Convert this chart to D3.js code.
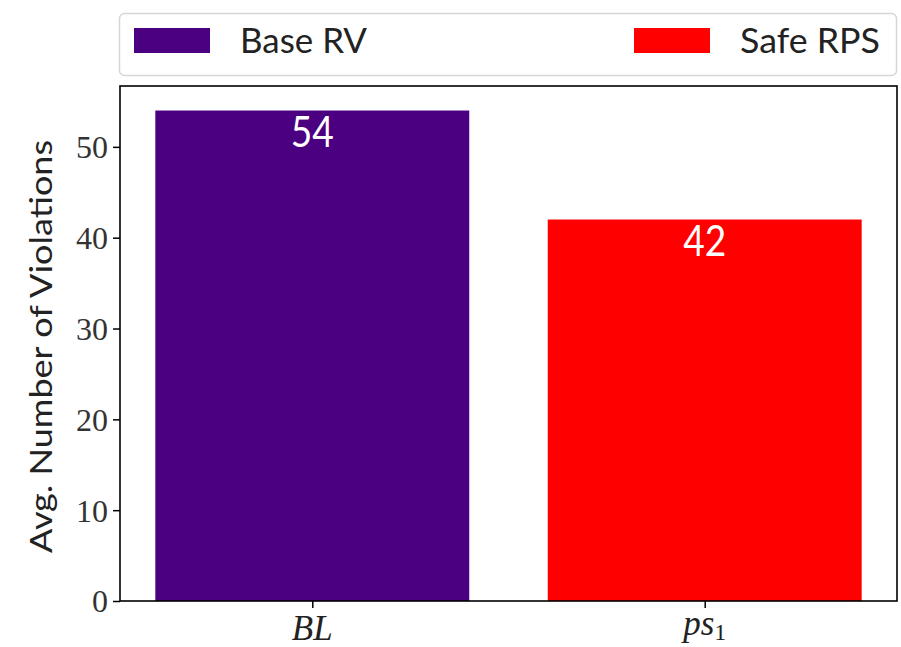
<!DOCTYPE html>
<html>
<head>
<meta charset="utf-8">
<script src="https://cdn.jsdelivr.net/npm/d3@7"></script>
<style>
html,body{margin:0;padding:0;background:#fff;}
svg{display:block;}
</style>
</head>
<body>
<svg id="chart" width="901" height="647"></svg>
<script>
const categories = ["BL", "ps1"];
const seriesNames = ["Base RV", "Safe RPS"];
const values = [54, 42];
const colors = ["#4b0082", "#ff0000"];
const yTicks = [0, 10, 20, 30, 40, 50];
const yLabel = "Avg. Number of Violations";

const svg = d3.select("#chart");
const m = {left: 120, right: 897, top: 86, bottom: 601};
const sans = "Lato, 'Open Sans', sans-serif";
const serif = "'Liberation Serif', 'DejaVu Serif', serif";

const x = d3.scaleLinear().domain([-0.49, 1.49]).range([m.left, m.right]);
const y = d3.scaleLinear().domain([0, 56.7]).range([m.bottom, m.top]);
const barW = 0.8;

// bars
svg.selectAll("rect.bar").data(values).enter().append("rect")
  .attr("class", "bar")
  .attr("x", (d, i) => x(i - barW / 2))
  .attr("width", (d, i) => x(i + barW / 2) - x(i - barW / 2))
  .attr("y", d => y(d))
  .attr("height", d => y(0) - y(d))
  .attr("fill", (d, i) => colors[i]);

// bar labels
svg.selectAll("text.val").data(values).enter().append("text")
  .attr("x", (d, i) => x(i))
  .attr("y", d => y(d) + 36)
  .attr("text-anchor", "middle")
  .attr("fill", "#fff")
  .attr("font-family", sans)
  .attr("font-size", 43)
  .attr("textLength", 43)
  .attr("lengthAdjust", "spacingAndGlyphs")
  .text(d => d);

// y axis
const yAxis = d3.axisLeft(y).tickValues(yTicks).tickSize(7).tickPadding(6).tickFormat(d3.format("d"));
const gy = svg.append("g").attr("transform", `translate(${m.left},0)`).call(yAxis);
gy.select(".domain").remove();
gy.selectAll(".tick line").attr("stroke", "#000").attr("stroke-width", 1.5);
gy.selectAll(".tick text").attr("font-family", serif).attr("font-size", 32).attr("fill", "#333")
  .attr("dy", "0.34em").attr("x", -12);

// x axis
const xAxis = d3.axisBottom(x).tickValues([0, 1]).tickSize(7).tickFormat(() => "");
const gx = svg.append("g").attr("transform", `translate(0,${m.bottom})`).call(xAxis);
gx.select(".domain").remove();
gx.selectAll(".tick line").attr("stroke", "#000").attr("stroke-width", 1.5);

// x tick labels (math italic)
svg.append("text").attr("x", x(0)).attr("y", 640).attr("text-anchor", "middle")
  .attr("font-family", serif).attr("font-style", "italic").attr("font-size", 35).attr("fill", "#222")
  .text(categories[0]);
const xl1 = svg.append("text").attr("x", x(1)).attr("y", 635).attr("text-anchor", "middle")
  .attr("font-family", serif).attr("font-style", "italic").attr("font-size", 35).attr("fill", "#222");
xl1.append("tspan").text(categories[1].slice(0, 2));
xl1.append("tspan").attr("font-style", "normal").attr("font-size", 24).attr("dy", 5).text(categories[1].slice(2));

// frame
svg.append("rect").attr("x", m.left).attr("y", m.top)
  .attr("width", m.right - m.left).attr("height", m.bottom - m.top)
  .attr("fill", "none").attr("stroke", "#000").attr("stroke-width", 1.6);

// y label
svg.append("text")
  .attr("transform", `translate(52,${(140 + 553) / 2}) rotate(-90)`)
  .attr("text-anchor", "middle")
  .attr("font-family", sans).attr("font-size", 31).attr("fill", "#222")
  .attr("textLength", 413).attr("lengthAdjust", "spacingAndGlyphs")
  .text(yLabel);

// legend
const lg = svg.append("g");
lg.append("rect").attr("x", 119.5).attr("y", 13.5).attr("width", 777).attr("height", 62)
  .attr("rx", 5).attr("fill", "#fff").attr("stroke", "#d6d6d6").attr("stroke-width", 1.5);
const legX = [134, 634];
const legTextX = [240, 740];
const legTextLen = [127, 140];
seriesNames.forEach((name, i) => {
  lg.append("rect").attr("x", legX[i]).attr("y", 28).attr("width", 76).attr("height", 25).attr("fill", colors[i]);
  lg.append("text").attr("x", legTextX[i]).attr("y", 53)
    .attr("font-family", sans).attr("font-size", 35).attr("fill", "#222")
    .attr("textLength", legTextLen[i]).attr("lengthAdjust", "spacingAndGlyphs")
    .text(name);
});
</script>
</body>
</html>
